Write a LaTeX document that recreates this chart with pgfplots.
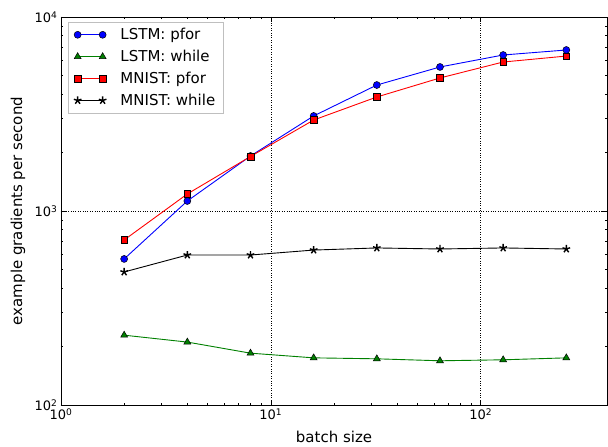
\documentclass[border=0pt]{standalone}
\usepackage{fontspec}
\setmainfont{DejaVu Sans}
\usepackage{pgfplots}
\pgfplotsset{compat=1.18}

\begin{document}
\begin{tikzpicture}
\begin{loglogaxis}[
  at={(0,0)}, anchor=south west,
  scale only axis,
  width=546pt, height=388pt,
  xmin=1, xmax=400,
  ymin=100, ymax=10000,
  xtick={1,10,100}, xticklabels={10\textsuperscript{0},10\textsuperscript{1},10\textsuperscript{2}},
  ytick={100,1000,10000}, yticklabels={10\textsuperscript{2},10\textsuperscript{3},10\textsuperscript{4}},
  tick align=inside,
  major tick length=5pt, minor tick length=2.5pt,
  every tick/.style={black, line width=0.6pt},
  grid=major,
  major grid style={black, dotted, line width=0.6pt},
  axis line style={line width=0.8pt},
  ticklabel style={font=\fontsize{13}{15}\selectfont},
  label style={font=\fontsize{15}{18}\selectfont},
  xlabel={batch size},
  ylabel={example gradients per second},
  xlabel style={at={(axis description cs:0.5,-0.0825)}, anchor=center},
  ylabel style={at={(axis description cs:-0.0788,0.5)}, anchor=center},
  legend cell align=left,
  legend style={font=\fontsize{15}{18}\selectfont, draw=black!25, line width=0.6pt,
    at={(axis description cs:0.012,0.987)}, anchor=north west, inner xsep=6pt, inner ysep=4pt,
    row sep=5pt, /tikz/every odd column/.append style={column sep=12pt}},
  legend image code/.code={\draw[mark repeat=2,mark phase=1] plot coordinates {(0pt,0pt) (12.5pt,0pt) (25pt,0pt)};},
  every axis plot/.append style={line width=0.9pt},
]
\addplot[blue, mark=*, mark size=3.5pt, mark options={fill=blue, draw=black, line width=0.5pt}] coordinates {
  (2,566) (4,1126) (8,1921) (16,3090) (32,4460) (64,5525) (128,6370) (256,6760)
};
\addlegendentry{LSTM: pfor}
\addplot[green!50!black, mark=triangle*, mark size=4pt, mark options={fill=green!50!black, draw=black, line width=0.5pt}] coordinates {
  (2,229) (4,211) (8,185) (16,175) (32,173) (64,169) (128,171) (256,175)
};
\addlegendentry{LSTM: while}
\addplot[red, mark=square*, mark size=3.3pt, mark options={fill=red, draw=black, line width=0.5pt}] coordinates {
  (2,709) (4,1224) (8,1910) (16,2944) (32,3870) (64,4850) (128,5860) (256,6290)
};
\addlegendentry{MNIST: pfor}
\addplot[black, mark=star, mark size=4pt, mark options={fill=black, line width=1.4pt}] coordinates {
  (2,485) (4,593) (8,593) (16,629) (32,645) (64,637) (128,645) (256,637)
};
\addlegendentry{MNIST: while}
\end{loglogaxis}
\path[use as bounding box] (-61pt,-39pt) rectangle (547pt,405pt);
\end{tikzpicture}
\end{document}
